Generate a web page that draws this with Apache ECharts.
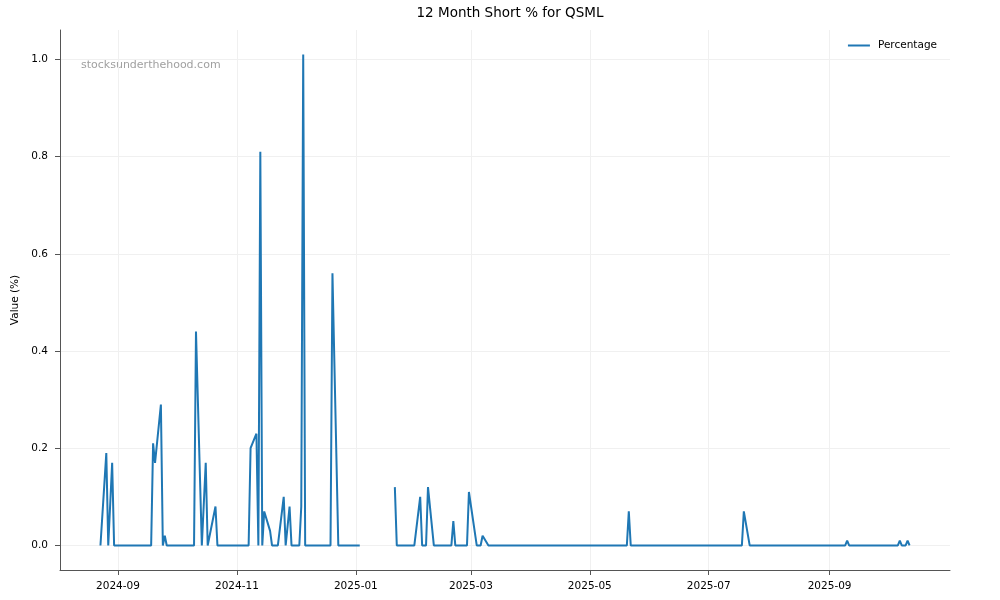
<!DOCTYPE html>
<html>
<head>
<meta charset="utf-8">
<style>
html,body{margin:0;padding:0;background:#fff;}
#chart{width:1000px;height:600px;}
</style>
<script src="https://cdn.jsdelivr.net/npm/echarts@6/dist/echarts.min.js"></script>
</head>
<body>
<div id="chart"></div>
<script>
const chartTitle = "12 Month Short % for QSML";
const seriesName = "Percentage";
const yAxisName = "Value (%)";
const watermark = "stocksunderthehood.com";

const dates = [
  "2024-08-23","2024-08-26","2024-08-27","2024-08-28","2024-08-29","2024-08-30",
  "2024-09-18","2024-09-19","2024-09-20","2024-09-23","2024-09-24","2024-09-25","2024-09-26",
  "2024-10-10","2024-10-11","2024-10-14","2024-10-15","2024-10-16","2024-10-17","2024-10-21","2024-10-22",
  "2024-11-07","2024-11-08","2024-11-11","2024-11-12","2024-11-13","2024-11-14","2024-11-15","2024-11-18","2024-11-19",
  "2024-11-22","2024-11-25","2024-11-26","2024-11-27","2024-11-28","2024-11-29",
  "2024-12-03","2024-12-04","2024-12-05","2024-12-06","2024-12-19","2024-12-20","2024-12-23","2025-01-03",
  "2025-01-10",
  "2025-01-21","2025-01-22","2025-01-31","2025-02-03","2025-02-04","2025-02-06","2025-02-07","2025-02-10",
  "2025-02-19","2025-02-20","2025-02-21","2025-02-27","2025-02-28","2025-03-04","2025-03-06","2025-03-07","2025-03-10",
  "2025-05-20","2025-05-21","2025-05-22",
  "2025-07-18","2025-07-19","2025-07-22",
  "2025-09-09","2025-09-10","2025-09-11",
  "2025-10-06","2025-10-07","2025-10-08","2025-10-10","2025-10-11","2025-10-12"
];
const values = [
  0,0.19,0,0,0.17,0,
  0,0.21,0.17,0.29,0,0.02,0,
  0,0.44,0,0,0.17,0,0.08,0,
  0,0.20,0.23,0,0.81,0,0.07,0.03,0,
  0,0.10,0,0,0.08,0,
  0,0.08,1.01,0,0,0.56,0,0,
  null,
  0.12,0,0,0.10,0,0,0.12,0,
  0,0.05,0,0,0.11,0,0,0.02,0,
  0,0.07,0,
  0,0.07,0,
  0,0.01,0,
  0,0.01,0,0,0.01,0
];
const xTickLabels = ["2024-09-01","2024-11-01","2025-01-01","2025-03-01","2025-05-01","2025-07-01","2025-09-01"];
const yTickValues = [0,0.2,0.4,0.6,0.8,1.0];

function ts(s){ const p = s.split('-').map(Number); return new Date(p[0], p[1]-1, p[2]).getTime(); }
const firstT = ts(dates[0]), lastT = ts(dates[dates.length-1]);
const spanT = lastT - firstT;
const xMin = firstT - spanT*0.05, xMax = lastT + spanT*0.05;
const vals = values.filter(v=>v!==null);
const vMax = Math.max(...vals), vMin = Math.min(...vals);
const yMin = vMin - (vMax-vMin)*0.05, yMax = vMax + (vMax-vMin)*0.05;

const data = dates.map((d,i)=>[ts(d), values[i]]);
const xTicks = xTickLabels.map(ts);

const chart = echarts.init(document.getElementById('chart'));
const font = "DejaVu Sans";
chart.setOption({
  animation:false,
  backgroundColor:'#fff',
  title:{text:chartTitle,left:505,top:1,textAlign:'center',textStyle:{fontFamily:font,fontSize:13.5,fontWeight:'normal',color:'#000'}},
  legend:{right:58,top:35,itemWidth:22,itemHeight:2,itemGap:10,icon:'rect',
    textStyle:{fontFamily:font,fontSize:10.5,color:'#000',padding:[0,0,0,3]},data:[seriesName]},
  grid:{left:60,right:50,top:30,bottom:30},
  graphic:[{type:'text',left:81,top:60,style:{text:watermark,fontFamily:font,fontSize:11,fill:'#a0a0a0'}}],
  xAxis:{type:'time',min:xMin,max:xMax,
    axisLine:{onZero:false,lineStyle:{color:'#555',width:1}},
    axisTick:{show:true,customValues:xTicks,length:5,lineStyle:{color:'#555'}},
    axisLabel:{customValues:xTicks,formatter:'{yyyy}-{MM}',fontFamily:font,fontSize:10.5,color:'#000',margin:11,hideOverlap:false},
    splitLine:{show:true,lineStyle:{color:'#f0f0f0',width:1}},
    minorTick:{show:false}},
  yAxis:{type:'value',min:yMin,max:yMax,name:yAxisName,nameLocation:'middle',nameGap:36,
    nameTextStyle:{fontFamily:font,fontSize:10.5,color:'#000'},
    axisLine:{show:true,onZero:false,lineStyle:{color:'#555',width:1}},
    axisTick:{show:true,customValues:yTickValues,length:5,lineStyle:{color:'#555'}},
    axisLabel:{customValues:yTickValues,formatter:v=>v.toFixed(1),fontFamily:font,fontSize:10.5,color:'#000',margin:12},
    splitLine:{show:true,lineStyle:{color:'#f0f0f0',width:1}}},
  series:[{name:seriesName,type:'line',data:data,showSymbol:false,connectNulls:false,
    lineStyle:{color:'#1f77b4',width:2},itemStyle:{color:'#1f77b4'}}]
});
</script>
</body>
</html>
